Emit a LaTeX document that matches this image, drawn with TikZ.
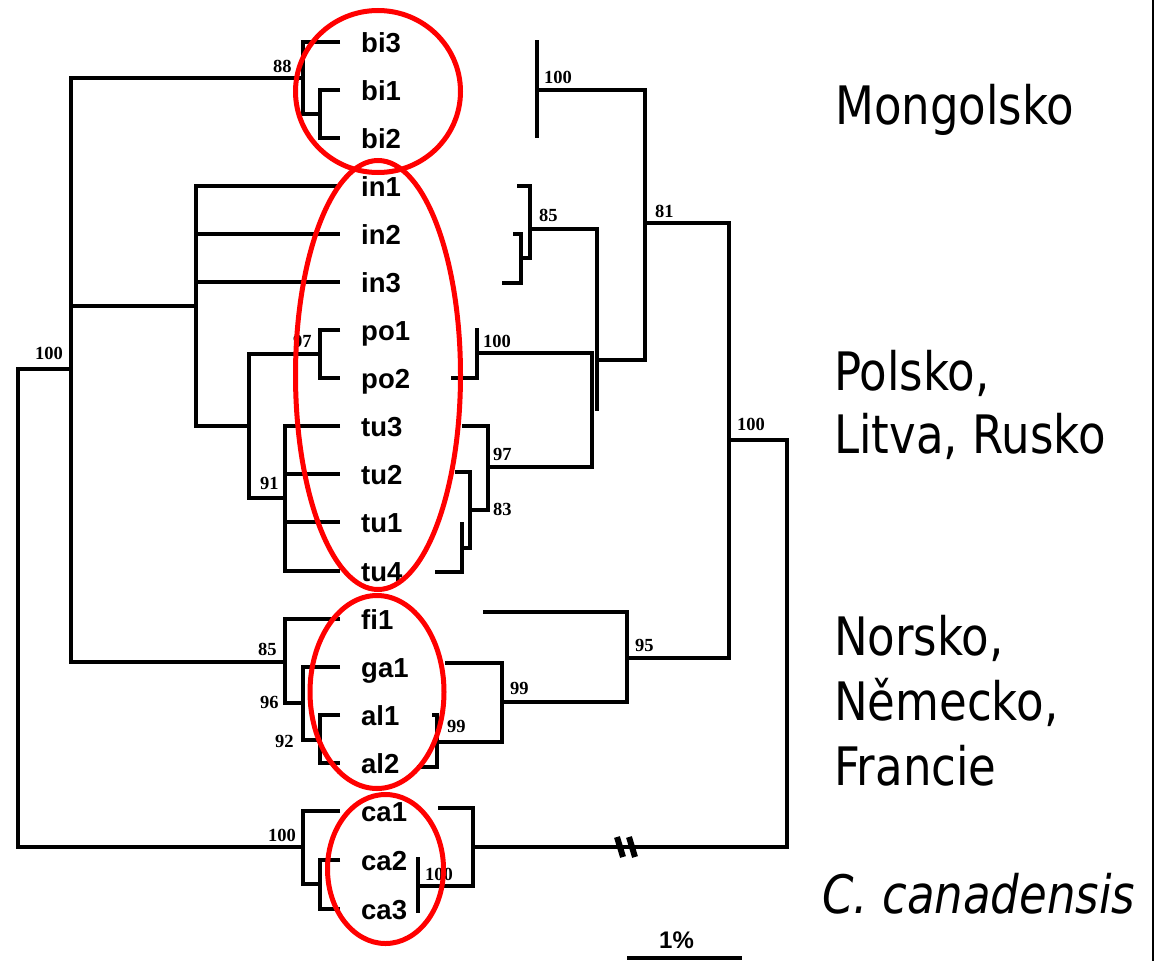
\documentclass[tikz,border=0pt]{standalone}
\usepackage{fontspec}
\setmainfont{Liberation Sans}
\newfontfamily\bootfont{Liberation Serif}
\newfontfamily\regionfont[FakeStretch=0.85]{DejaVu Sans}
\begin{document}
\begin{tikzpicture}[x=1pt,y=-1pt,
  branch/.style={line width=3.6pt,line join=miter},
  taxon/.style={anchor=base west,inner sep=0pt,font=\fontsize{27.5}{30}\selectfont\bfseries},
  boot/.style={anchor=base west,inner sep=0pt,font=\bootfont\fontsize{18.5}{20}\selectfont\bfseries},
  region/.style={anchor=base west,inner sep=0pt,font=\regionfont\fontsize{53}{60}\selectfont},
  ring/.style={draw=red,line width=5pt}]
\useasboundingbox (0,0) rectangle (1165,961);
\fill[white] (0,0) rectangle (1165,961);

% ---------- tips and taxon names ----------
\foreach \n/\y in {bi3/42,bi1/90,bi2/138,in1/186,in2/234,in3/282,po1/330,po2/378,
                   tu3/426,tu2/474,tu1/522,tu4/571,fi1/619,ga1/667,al1/715,al2/763,
                   ca1/811,ca2/860,ca3/909}{
  \coordinate (t-\n) at (340,\y);
  \node[taxon] (l-\n) at (361,{\y+10}) {\n};
}

% ---------- internal nodes of the left tree ----------
\coordinate (bi12) at (320,114);
\coordinate (bi)   at (303,78);
\coordinate (po)   at (320,354);
\coordinate (tu)   at (285,498);
\coordinate (potu) at (249,426);
\coordinate (inn)  at (196,306);
\coordinate (al)   at (320,740);
\coordinate (ga)   at (303,703);
\coordinate (fi)   at (285,662);
\coordinate (ing)  at (71,369);
\coordinate (ca23) at (320,884);
\coordinate (ca)   at (303,847);
\coordinate (root) at (18,608);

\draw[branch] (t-bi1) -| (bi12) |- (t-bi2);
\draw[branch] (t-bi3) -| (bi) |- (bi12);
\draw[branch] (t-po1) -| (po) |- (t-po2);
\draw[branch] (t-tu3) -| (tu) |- (t-tu4);
\draw[branch] (tu |- t-tu2) -- (t-tu2);
\draw[branch] (tu |- t-tu1) -- (t-tu1);
\draw[branch] (po) -| (potu) |- (tu);
\draw[branch] (t-in1) -| (inn) |- (potu);
\draw[branch] (inn |- t-in2) -- (t-in2);
\draw[branch] (inn |- t-in3) -- (t-in3);
\draw[branch] (t-al1) -| (al) |- (t-al2);
\draw[branch] (t-ga1) -| (ga) |- (al);
\draw[branch] (t-fi1) -| (fi) |- (ga);
\draw[branch] (bi) -| (ing) |- (fi);
\draw[branch] (ing |- inn) -- (inn);
\draw[branch] (t-ca2) -| (ca23) |- (t-ca3);
\draw[branch] (t-ca1) -| (ca) |- (ca23);
\draw[branch] (ing) -| (root) |- (ca);

% ---------- the mirrored tree on the right ----------
\coordinate (ra-top) at (537,40);
\coordinate (ra-bot) at (537,138);
\coordinate (r100a)  at (537,90);
\coordinate (r81)    at (645,223);
\coordinate (rjoin)  at (597,360);
\coordinate (rjoinb) at (597,411);
\coordinate (r85)    at (530,229);
\coordinate (rin23)  at (521,258);
\coordinate (e1) at (517,186);
\coordinate (e2) at (513,234);
\coordinate (e3) at (502,283);
\coordinate (r100po) at (477,353);
\coordinate (rpo-top) at (477,328);
\coordinate (e4) at (451,378);
\coordinate (rj2b)   at (592,467);
\coordinate (r97)    at (488,467);
\coordinate (e5) at (462,426);
\coordinate (r83)    at (470,510);
\coordinate (e6) at (455,472);
\coordinate (rtu14)  at (462,548);
\coordinate (rtu-top) at (462,522);
\coordinate (e7) at (435,572);
\coordinate (r100big) at (729,440);
\coordinate (r95)    at (627,658);
\coordinate (e8) at (483,612);
\coordinate (r99)    at (502,702);
\coordinate (e9) at (445,663);
\coordinate (r99b)   at (437,742);
\coordinate (e10) at (432,715);
\coordinate (e11) at (417,767);
\coordinate (rout)   at (787,847);
\coordinate (rca)    at (473,847);
\coordinate (e12) at (438,808);
\coordinate (rca23)  at (418,886);
\coordinate (rca-top) at (418,857);
\coordinate (rca-bot) at (418,913);

\draw[branch] (ra-top) -- (ra-bot);
\draw[branch] (r100a) -| (r81) |- (rjoin);
\draw[branch] (e1) -| (r85) |- (rin23);
\draw[branch] (e2) -| (rin23) |- (e3);
\draw[branch] (r85) -| (rjoinb);
\draw[branch] (rpo-top) |- (e4);
\draw[branch] (r100po) -| (rj2b) -- (r97);
\draw[branch] (e5) -| (r97) |- (r83);
\draw[branch] (e6) -| (r83) |- (rtu14);
\draw[branch] (rtu-top) |- (e7);
\draw[branch] (r81) -| (r100big) |- (r95);
\draw[branch] (e8) -| (r95) |- (r99);
\draw[branch] (e9) -| (r99) |- (r99b);
\draw[branch] (e10) -| (r99b) |- (e11);
\draw[branch] (r100big) -| (rout) -- (rca);
\draw[branch] (e12) -| (rca) |- (rca23);
\draw[branch] (rca-top) -- (rca-bot);

% break mark on the long branch
\coordinate (brk) at (627,847);
\draw[line width=6pt] ([xshift=-10pt,yshift=10pt]brk) -- ([xshift=-4pt,yshift=-10pt]brk);
\draw[line width=6pt] ([xshift=2pt,yshift=10pt]brk) -- ([xshift=8pt,yshift=-10pt]brk);

% ---------- bootstrap values ----------
\node[boot] (b1)  at (273,72)  {88};
\node[boot] (b2)  at (544,83)  {100};
\node[boot] (b3)  at (539,221) {85};
\node[boot] (b4)  at (655,217) {81};
\node[boot] (b5)  at (293,347) {97};
\node[boot] (b6)  at (35,359)  {100};
\node[boot] (b7)  at (260,489) {91};
\node[boot] (b8)  at (483,347) {100};
\node[boot] (b9)  at (493,460) {97};
\node[boot] (b10) at (493,515) {83};
\node[boot] (b11) at (737,430) {100};
\node[boot] (b12) at (258,655) {85};
\node[boot] (b13) at (260,708) {96};
\node[boot] (b14) at (275,747) {92};
\node[boot] (b15) at (268,841) {100};
\node[boot] (b16) at (447,732) {99};
\node[boot] (b17) at (510,694) {99};
\node[boot] (b18) at (635,651) {95};
\node[boot] (b19) at (425,880) {100};

% ---------- scale bar ----------
\coordinate (sb-l) at (627,958);
\coordinate (sb-r) at (742,958);
\draw[line width=3.4pt] (sb-l) -- (sb-r);
\node[anchor=base west,inner sep=0pt,font=\fontsize{24}{26}\selectfont\bfseries] (sb-t) at (659,948) {1\%};

% ---------- right frame line ----------
\coordinate (fr-top) at (1153,0);
\coordinate (fr-bot) at (1153,961);
\draw[line width=2.6pt] (fr-top) -- (fr-bot);

% ---------- region names ----------
\node[region] (g1)  at (835,124) {Mongolsko};
\node[region] (g2a) at (834,390) {Polsko,};
\node[region] (g2b) at (834,453) {Litva, Rusko};
\node[region] (g3a) at (834,655) {Norsko,};
\node[region] (g3b) at (834,720) {Německo,};
\node[region] (g3c) at (834,785) {Francie};
\node[region,font=\regionfont\fontsize{53}{60}\selectfont\itshape] (g4) at (822,913) {C. canadensis};

% ---------- red rings round the groups ----------
\draw[ring] (378,91.5) ellipse [x radius=82.5,y radius=81];
\draw[ring] (378,375) ellipse [x radius=82.5,y radius=214.5];
\draw[ring] (377,692) ellipse [x radius=67,y radius=96.5];
\draw[ring] (385.5,869) ellipse [x radius=58,y radius=74.5];
\end{tikzpicture}
\end{document}
